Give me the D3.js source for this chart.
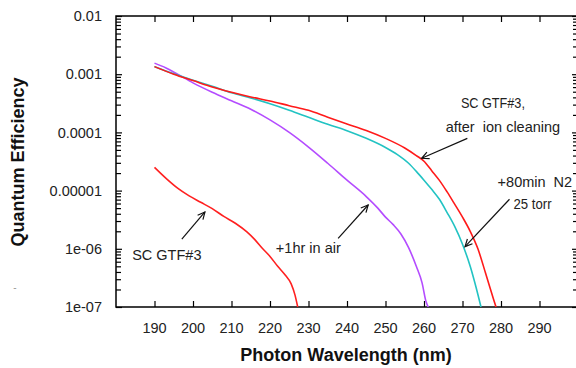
<!DOCTYPE html>
<html><head><meta charset="utf-8">
<script src="https://cdn.jsdelivr.net/npm/d3@7/dist/d3.min.js"></script>
<style>body{margin:0;background:#fff}svg{display:block}text{font-family:"Liberation Sans",Arial,sans-serif}</style>
</head><body><div id="chart"></div>
<script>
// ---- data ----
const xTicks = [190,200,210,220,230,240,250,260,270,280,290];
const yTicks = [1e-2,1e-3,1e-4,1e-5,1e-6,1e-7];
const yTickLabels = ["0.01","0.001","0.0001","0.00001","1e-06","1e-07"];

const ionWl = [190,195,200,205,210,215,220,225,230,235,240,245,250,255,258,260,262,264,266,268,270,272,274,276,278,278.7];
const ionQE = [1.35e-3,1.0e-3,7.76e-4,6.03e-4,4.9e-4,4.07e-4,3.47e-4,2.88e-4,2.4e-4,1.82e-4,1.4e-4,1.08e-4,7.9e-5,5.4e-5,4.0e-5,3.2e-5,2.2e-5,1.5e-5,9.5e-6,5.8e-6,3.5e-6,2.0e-6,1.0e-6,3.8e-7,1.4e-7,1.0e-7];

const n2Wl = [190,195,200,205,210,215,220,225,230,235,240,245,250,253,256,258,260,262,264,266,268,270,272,273.5,274.8];
const n2QE = [1.35e-3,1.02e-3,7.9e-4,6.2e-4,4.8e-4,3.9e-4,3.1e-4,2.4e-4,1.82e-4,1.38e-4,1.07e-4,7.9e-5,5.5e-5,4.2e-5,2.95e-5,2.14e-5,1.51e-5,1.05e-5,7.1e-6,4.2e-6,2.4e-6,1.2e-6,5.0e-7,2.2e-7,1.0e-7];

const airWl = [190,193,196,200,205,210,215,220,225,230,235,240,245,248,250,252,254,256,258,259.5,260.5,261.1];
const airQE = [1.55e-3,1.28e-3,1.0e-3,7.1e-4,4.9e-4,3.5e-4,2.5e-4,1.64e-4,1.0e-4,5.6e-5,2.95e-5,1.51e-5,7.9e-6,5.0e-6,3.5e-6,2.6e-6,1.8e-6,1.05e-6,5.0e-7,2.6e-7,1.26e-7,1.0e-7];

const rawWl = [190,193,196,199,202,205,208,211,214,216,218,220,222,224,225.5,226.5,227.2];
const rawQE = [2.5e-5,1.62e-5,1.1e-5,8.1e-6,6.3e-6,4.9e-6,3.6e-6,2.75e-6,1.95e-6,1.45e-6,1.02e-6,7.4e-7,5.0e-7,3.5e-7,2.5e-7,1.6e-7,1.0e-7];

const seriesNames = ["SC GTF#3","+1hr in air","+80min N2","after ion cleaning"];
const seriesColors = ["#ff2020","#b44cff","#22c3c3","#ff1a1a"];

// annotations in data units: text lines and arrows (tail -> tip)
const annoText = [
  {t:"SC GTF#3,", x:277.9, y:3.2e-4},
  {t:"after  ion cleaning", x:280.5, y:1.24e-4},
  {t:"+80min  N2", x:288.8, y:1.42e-5},
  {t:"25 torr", x:288.2, y:5.9e-6},
  {t:"SC GTF#3", x:193.2, y:7.8e-7},
  {t:"+1hr in air", x:229.95, y:1.06e-6}
];
const annoArrows = [
  {x1:271.25, y1:7.9e-5, x2:259.4, y2:3.59e-5},
  {x1:282.2, y1:7.1e-6, x2:270.65, y2:1.09e-6},
  {x1:197.1, y1:1.46e-6, x2:203.1, y2:4.3e-6},
  {x1:237.7, y1:1.51e-6, x2:245.5, y2:5.66e-6}
];

// ---- chart ----
const W=576,H=368;
const m={left:116,top:16,right:578,bottom:307};
const svg=d3.select("#chart").append("svg").attr("width",W).attr("height",H);
const x=d3.scaleLinear().domain([180,300]).range([m.left,m.right]);
const y=d3.scaleLog().domain([1e-7,1e-2]).range([m.bottom,m.top]);

svg.append("defs").append("clipPath").attr("id","clip").append("rect")
  .attr("x",m.left).attr("y",m.top).attr("width",m.right-m.left).attr("height",m.bottom-m.top);

// minor y ticks
const minor=[];
for(let e=-7;e<-2;e++){for(let k=2;k<=9;k++){minor.push(k*Math.pow(10,e));}}

const g=svg.append("g");
const noDom=s=>s.select(".domain").remove();
g.append("g").attr("transform",`translate(${m.left},0)`).call(d3.axisRight(y).tickValues(yTicks).tickSize(6).tickFormat("")).call(noDom);
g.append("g").attr("transform",`translate(${m.left},0)`).call(d3.axisRight(y).tickValues(minor).tickSize(5).tickFormat("")).call(noDom);
g.append("g").attr("transform",`translate(${m.right},0)`).call(d3.axisLeft(y).tickValues(yTicks).tickSize(6).tickFormat("")).call(noDom);
g.append("g").attr("transform",`translate(${m.right},0)`).call(d3.axisLeft(y).tickValues(minor).tickSize(5).tickFormat("")).call(noDom);
g.append("g").attr("transform",`translate(0,${m.bottom})`).call(d3.axisTop(x).tickValues(xTicks).tickSize(6).tickFormat("")).call(noDom);
g.append("g").attr("transform",`translate(0,${m.top})`).call(d3.axisBottom(x).tickValues(xTicks).tickSize(6).tickFormat("")).call(noDom);
g.selectAll(".tick line").attr("stroke","#000").attr("stroke-width",1.2);

// frame
svg.append("path").attr("d",`M${m.left},${m.top}H${m.right}V${m.bottom}H${m.left}Z`)
  .attr("fill","none").attr("stroke","#000").attr("stroke-width",1.5);

// tick labels
svg.append("g").selectAll("text").data(xTicks).join("text")
  .attr("x",d=>x(d)).attr("y",333).attr("text-anchor","middle")
  .attr("font-size","14.5px").attr("fill","#222").text(d=>d);
svg.append("g").selectAll("text").data(yTicks).join("text")
  .attr("x",102).attr("y",d=>y(d)).attr("dy","0.36em").attr("text-anchor","end")
  .attr("font-size","14.5px").attr("fill","#222").text((d,i)=>yTickLabels[i]);

// titles
svg.append("text").attr("x",346).attr("y",361).attr("text-anchor","middle")
  .attr("font-size","18px").attr("font-weight","bold").attr("fill","#111").text("Photon Wavelength (nm)");
svg.append("text").attr("transform","translate(24,162) rotate(-90)").attr("text-anchor","middle")
  .attr("font-size","18px").attr("font-weight","bold").attr("fill","#111").text("Quantum Efficiency");
svg.append("text").attr("x",15).attr("y",291).attr("text-anchor","middle")
  .attr("font-size","10px").attr("fill","#999").text("-");

// series
const series=[
  {wl:rawWl,qe:rawQE},
  {wl:airWl,qe:airQE},
  {wl:n2Wl,qe:n2QE},
  {wl:ionWl,qe:ionQE}
];
const line=d3.line().x(d=>x(d[0])).y(d=>y(d[1])).curve(d3.curveMonotoneX);
const lines=svg.append("g").attr("clip-path","url(#clip)");
series.forEach((s,i)=>{
  lines.append("path").datum(s.wl.map((w,j)=>[w,s.qe[j]]))
    .attr("d",line).attr("fill","none").attr("stroke",seriesColors[i])
    .attr("stroke-width",1.6).attr("stroke-linejoin","round")
    .attr("data-name",seriesNames[i]);
});

// annotations
const fs={0:"14px",3:"14px"};
const squeeze={0:64,3:38};
svg.append("g").selectAll("text").data(annoText).join("text")
  .attr("x",d=>x(d.x)).attr("y",d=>y(d.y)).attr("dy","0.36em").attr("text-anchor","middle")
  .attr("font-size",(d,i)=>fs[i]||"14.5px").attr("fill","#222").style("white-space","pre")
  .each(function(d,i){ if(squeeze[i]) d3.select(this).attr("textLength",squeeze[i]).attr("lengthAdjust","spacingAndGlyphs"); })
  .text(d=>d.t);
const ag=svg.append("g").attr("stroke","#111").attr("stroke-width",1.2).attr("fill","none");
annoArrows.forEach(a=>{
  const x1=x(a.x1),y1=y(a.y1),x2=x(a.x2),y2=y(a.y2);
  const ang=Math.atan2(y2-y1,x2-x1),L=8,sp=0.45;
  ag.append("line").attr("x1",x1).attr("y1",y1).attr("x2",x2).attr("y2",y2);
  ag.append("path").attr("d",`M${x2-L*Math.cos(ang-sp)},${y2-L*Math.sin(ang-sp)}L${x2},${y2}L${x2-L*Math.cos(ang+sp)},${y2-L*Math.sin(ang+sp)}`);
});
</script></body></html>
